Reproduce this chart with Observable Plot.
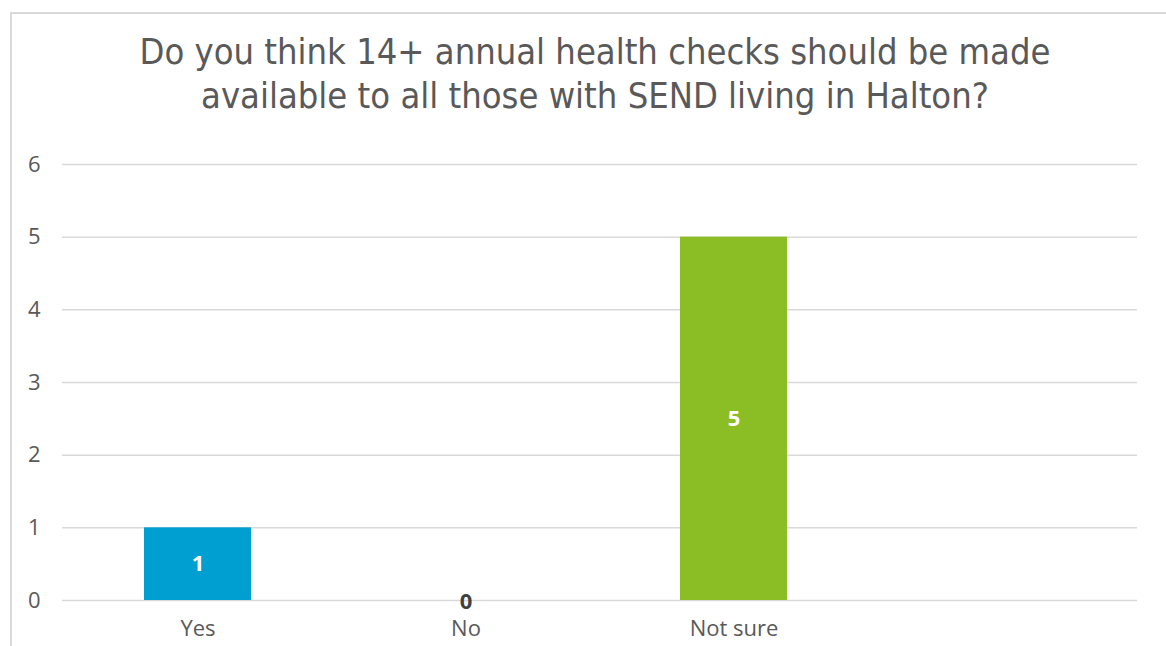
<!DOCTYPE html>
<html>
<head>
<meta charset="utf-8">
<script src="https://cdn.jsdelivr.net/npm/d3@7"></script>
<script src="https://cdn.jsdelivr.net/npm/@observablehq/plot@0.6"></script>
<style>
  html, body { margin: 0; padding: 0; background: #fff; width: 1166px; height: 646px; overflow: hidden; }
  #frame { position: absolute; left: 10px; top: 12px; width: 1156px; height: 640px;
           border-left: 2px solid #d9d9d9; border-top: 2px solid #d9d9d9; }
  #title { position: absolute; left: 0; top: 30px; width: 1190px; text-align: center;
           font-family: "DejaVu Sans Condensed", "DejaVu Sans", sans-serif; font-size: 36px;
           line-height: 44px; color: #595959; }
  #chart { position: absolute; left: 0; top: 140px; }
  #chart svg text { font-size: 22px !important; }
</style>
</head>
<body>
<div id="frame"></div>
<div id="title">Do you think 14+ annual health checks should be made<br>available to all those with SEND living in Halton?</div>
<div id="chart"></div>
<script>
const categories = ["Yes", "No", "Not sure", ""];
const values = [1, 0, 5, null];
const barColors = ["#009fd1", "#009fd1", "#8bbd24", "#8bbd24"];
const yTicks = [0, 1, 2, 3, 4, 5, 6];

const data = categories.map((c, i) => ({ category: c, value: values[i], color: barColors[i] }));
const shown = data.filter(d => d.value !== null);

const chart = Plot.plot({
  width: 1166,
  height: 506,
  marginTop: 24,
  marginBottom: 46,
  marginLeft: 62,
  marginRight: 29,
  style: { fontFamily: "'Open Sans', sans-serif", fontSize: "22px", color: "#595959", background: "transparent" },
  x: { domain: categories, paddingInner: 0.6, paddingOuter: 0.3, label: null },
  y: { domain: [0, 6], label: null },
  marks: [
    Plot.gridY(yTicks, { stroke: "#d9d9d9", strokeOpacity: 1, strokeWidth: 1.5 }),
    Plot.axisY(yTicks, { tickSize: 0, tickPadding: 22, tickFormat: "d", fontSize: 22, fill: "#595959", label: null }),
    Plot.axisX({ tickSize: 0, tickPadding: 20, fontSize: 22, fill: "#595959", label: null }),
    Plot.barY(shown.filter(d => d.value > 0), { x: "category", y: "value", fill: "color" }),
    Plot.text(shown.filter(d => d.value > 0), {
      x: "category", y: d => d.value / 2, text: d => String(d.value),
      fill: "white", fontWeight: "bold", fontSize: 22
    }),
    Plot.text(shown.filter(d => d.value === 0), {
      x: "category", y: "value", text: d => String(d.value),
      fill: "#404040", fontWeight: "bold", fontSize: 22, dy: 1
    })
  ]
});
document.getElementById("chart").appendChild(chart);
</script>
</body>
</html>
